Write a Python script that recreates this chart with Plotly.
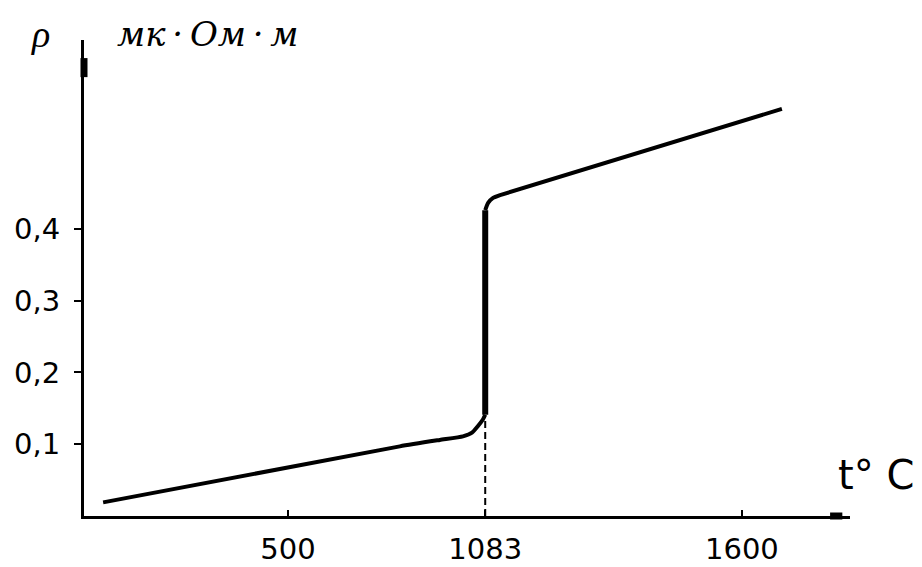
import plotly.graph_objects as go

# ---- data (schematic temperature axis) ----
# solid state branch (incl. bend into the melting jump)
solid_t = [52, 771, 868, 924, 946, 960, 972, 978]
solid_rho = [0.019, 0.097, 0.106, 0.111, 0.116, 0.125, 0.134, 0.141]
# jump at the melting point
melt_t = [978, 978]
melt_rho = [0.141, 0.426]
# liquid state branch
liquid_t = [978, 985, 997, 1014, 1697]
liquid_rho = [0.426, 0.436, 0.443, 0.447, 0.567]
# dashed drop line to the melting temperature
drop_t = [978, 978]
drop_rho = [0.0, 0.133]

x_tick_vals = [500, 978, 1600]
x_tick_text = ["500", "1083", "1600"]
y_tick_vals = [0.1, 0.2, 0.3, 0.4]
y_tick_text = ["0,1", "0,2", "0,3", "0,4"]

x_range = [5.7, 1862]
y_range = [0.0, 0.663]

fig = go.Figure()
fig.add_trace(go.Scatter(x=drop_t, y=drop_rho, mode="lines",
                         line=dict(color="black", width=2, dash="7px,4px")))
fig.add_trace(go.Scatter(x=solid_t, y=solid_rho, mode="lines",
                         line=dict(color="black", width=4, shape="spline", smoothing=0.5)))
fig.add_trace(go.Scatter(x=melt_t, y=melt_rho, mode="lines",
                         line=dict(color="black", width=6)))
fig.add_trace(go.Scatter(x=liquid_t, y=liquid_rho, mode="lines",
                         line=dict(color="black", width=4, shape="spline", smoothing=0.5)))

tick_font = dict(family="DejaVu Sans", size=29, color="black")

# the page body adds an 8px offset, so the figure is 8px smaller on each side
fig.update_layout(
    width=914, height=559,
    margin=dict(l=76, r=72, t=32, b=51),
    paper_bgcolor="white", plot_bgcolor="white",
    showlegend=False,
    xaxis=dict(range=x_range, showgrid=False, zeroline=False, automargin=False,
               showline=True, linecolor="black", linewidth=3,
               ticks="inside", ticklen=6, tickwidth=2, tickcolor="black",
               tickvals=x_tick_vals, ticktext=x_tick_text,
               tickfont=tick_font, ticklabelstandoff=5),
    yaxis=dict(range=y_range, showgrid=False, zeroline=False, automargin=False,
               showline=True, linecolor="black", linewidth=3,
               ticks="outside", ticklen=7, tickwidth=2, tickcolor="black",
               tickvals=y_tick_vals, ticktext=y_tick_text,
               tickfont=tick_font, ticklabelstandoff=8),
    shapes=[
        dict(type="line", xref="paper", yref="paper", x0=0, x1=0, y0=0.922, y1=0.962,
             line=dict(color="black", width=7)),
        dict(type="line", xref="paper", yref="paper", x0=0.974, x1=0.990, y0=0, y1=0,
             line=dict(color="black", width=7)),
    ],
    annotations=[
        dict(text="<i>ρ</i>", xref="paper", yref="paper", x=-0.057, y=1.012,
             xanchor="center", yanchor="middle", showarrow=False,
             font=dict(family="Liberation Serif", size=38, color="black")),
        dict(text="<i>мк\u2009·\u2009Ом\u2009·\u2009м</i>", xref="paper", yref="paper",
             x=0.041, y=1.012, xanchor="left", yanchor="middle", showarrow=False,
             font=dict(family="DejaVu Serif", size=34, color="black")),
        dict(text="t° C", xref="paper", yref="paper", x=0.982, y=0.086,
             xanchor="left", yanchor="middle", showarrow=False,
             font=dict(family="DejaVu Sans", size=40, color="black")),
    ],
)

fig.write_html("out.html")
